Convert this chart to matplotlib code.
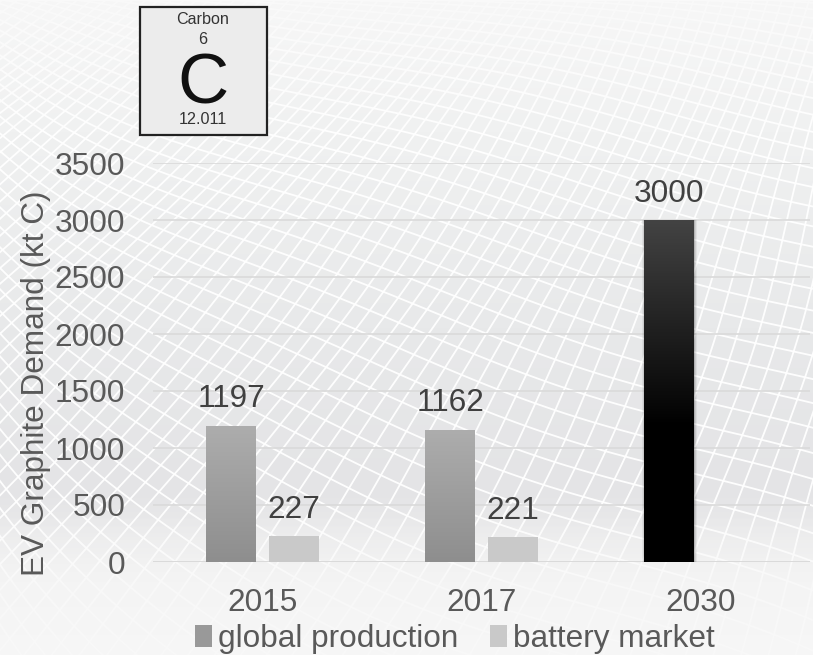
import numpy as np
import matplotlib
matplotlib.use("Agg")
import matplotlib.pyplot as plt
from matplotlib.collections import LineCollection
from matplotlib.colors import LinearSegmentedColormap
from matplotlib.patches import Patch, Rectangle

plt.rcParams['font.family'] = ['Liberation Sans', 'DejaVu Sans']

# data
years = ["2015", "2017", "2030"]
global_production = [1197, 1162, 3000]
battery_market = [227, 221]
y_ticks = [0, 500, 1000, 1500, 2000, 2500, 3000, 3500]
ylabel = "EV Graphite Demand (kt C)"
legend_labels = ["global production", "battery market"]

W, H = 813, 655
TXT = "#595959"
LBL = "#404040"
fs = 22.7

fig = plt.figure(figsize=(W / 100, H / 100), dpi=100)

# --- background: grey gradient with a white warped mesh
bg = fig.add_axes([0, 0, 1, 1], zorder=0)
bg.set_xlim(0, W)
bg.set_ylim(H, 0)
bg.axis("off")
grad = LinearSegmentedColormap.from_list("bg", [(0, "#f7f7f7"), (0.2, "#f0f1f1"),
                                                (0.5, "#e8e9ea"), (0.75, "#e4e4e6"),
                                                (0.87, "#efefef"), (1, "#f8f8f8")])
bg.imshow(np.linspace(0, 1, 256)[:, None], cmap=grad, extent=[0, W, H, 0], aspect="auto", zorder=0)

xs = np.linspace(-100, W + 100, 300)
ys = np.linspace(-10, H + 10, 200)


def warp_y(v):
    # mesh is tighter towards the top of the picture
    return 655 * (np.clip(v, 0, None) / 655) ** 1.5


shallow = []
for c in np.arange(-500, 1000, 20):
    g = 0.25 * xs + 95 * (1 - np.exp(-xs / 130)) + 7 * np.sin(xs / 95 + c / 120)
    shallow.append(np.column_stack([xs, warp_y(c + g)]))
steep = []
for c in np.arange(-800, 2200, 23):
    # lines fan out as they go down
    fan = 0.6 + 0.55 * ys / 655
    m = -(0.15 * ys + 0.1 * ys ** 2 / 655) + 5 * np.sin(ys / 70 + c / 90)
    steep.append(np.column_stack([900 + (c - 900) * fan + m, ys]))
bg.add_collection(LineCollection(shallow, colors="white", linewidths=1.3, alpha=0.95, zorder=1))
bg.add_collection(LineCollection(steep, colors="white", linewidths=1.3, alpha=0.95, zorder=1))

# mesh fades out at the top and bottom of the slide
fade = np.zeros((H, 1, 4))
fade[..., :3] = 0.965
pix = np.arange(H)
fade[:, 0, 3] = np.clip((130 - pix) / 130, 0, 1) * 0.6 + np.clip((pix - 510) / 80, 0, 1) * 0.75
bg.imshow(fade, extent=[0, W, H, 0], aspect="auto", zorder=2)
bg.set_xlim(0, W)
bg.set_ylim(H, 0)

# --- chart
ax = fig.add_axes([153 / W, (H - 562) / H, 657 / W, 399 / H], zorder=1)
ax.patch.set_alpha(0)
x = np.arange(len(years))
off = 0.143
wid = 0.228

gp_map = LinearSegmentedColormap.from_list("gp", ["#adadad", "#8e8e8e"])
dark_map = LinearSegmentedColormap.from_list("dark", [(0, "#434343"), (0.52, "#0a0a0a"), (0.6, "#000000"), (1, "#000000")])

# soft shadow of the dark bar
for grow, a in [(0.024, 0.05), (0.014, 0.08), (0.006, 0.12)]:
    ax.bar(x[2] - off, global_production[2], wid + grow, color="black", alpha=a, lw=0, zorder=2)

gp_bars = ax.bar(x - off, global_production, wid, color="none", zorder=3)
bm_bars = ax.bar(x[:2] + off, battery_market, wid, color="#c9c9c9", zorder=3)
for i, b in enumerate(gp_bars):
    im = ax.imshow(np.linspace(0, 1, 256)[:, None], cmap=gp_map if i < 2 else dark_map,
                   extent=[b.get_x(), b.get_x() + b.get_width(), 0, b.get_height()],
                   aspect="auto", zorder=3)
    im.set_clip_path(b)

ax.set_xlim(-0.5, 2.5)
ax.set_ylim(0, 3500)
ax.set_yticks(y_ticks)
ax.set_xticks(x)
ax.set_xticklabels(years)
ax.grid(axis="y", color="#dadada", lw=1.2, zorder=1)
ax.set_axisbelow(True)
for s in ax.spines.values():
    s.set_visible(False)
ax.axhline(0, color="#dadada", lw=2, zorder=1)
ax.tick_params(axis="both", length=0, labelsize=fs, labelcolor=TXT)
ax.tick_params(axis="y", pad=20)
ax.tick_params(axis="x", pad=19)
fig.text(36 / W, 1 - 383 / H, ylabel, rotation=90, ha="center", va="center", fontsize=fs, color=TXT)

for bars, vals in [(gp_bars, global_production), (bm_bars, battery_market)]:
    for b, v in zip(bars, vals):
        ax.annotate(str(v), (b.get_x() + b.get_width() / 2, v), xytext=(0, 13), textcoords="offset points",
                    ha="center", va="baseline", fontsize=fs, color=LBL, zorder=5)

handles = [Patch(color="#999999", lw=0), Patch(color="#c9c9c9", lw=0)]
ax.legend(handles, legend_labels, ncol=2, frameon=False, fontsize=fs, labelcolor=TXT,
          loc="center", bbox_to_anchor=(455 / W, 1 - 639 / H), bbox_transform=fig.transFigure,
          handlelength=0.54, handleheight=0.72, handletextpad=0.2, columnspacing=1.0,
          borderpad=0, borderaxespad=0)

# --- periodic table tile
top = fig.add_axes([0, 0, 1, 1], zorder=2)
top.set_xlim(0, W)
top.set_ylim(H, 0)
top.axis("off")
top.add_patch(Rectangle((140, 7), 127, 128, fc="#ececec", ec="#222222", lw=1.6))
top.text(203, 20, "Carbon", ha="center", va="center", fontsize=11.6, color="#333333")
top.text(203, 39, "6", ha="center", va="center", fontsize=11.6, color="#333333")
top.text(203, 104, "C", ha="center", va="baseline", fontsize=51, color="#111111")
top.text(203, 119, "12.011", ha="center", va="center", fontsize=11.6, color="#333333")

fig.savefig("out.png", dpi=100)
